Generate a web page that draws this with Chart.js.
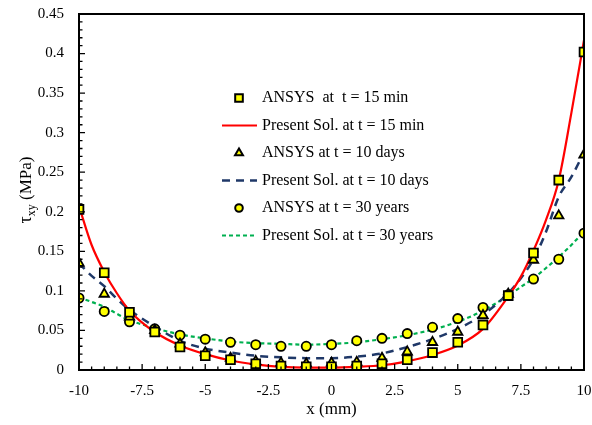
<!DOCTYPE html>
<html>
<head>
<meta charset="utf-8">
<script src="https://cdn.jsdelivr.net/npm/chart.js@4.4.0/dist/chart.umd.min.js"></script>
<style>
  body { margin: 0; background: #fff; }
  #container { width: 592px; height: 425px; }
</style>
</head>
<body>
<div id="container"><canvas id="chart" width="592" height="425"></canvas></div>
<script>
// points ANSYS (x entiers)
const xAnsys = [-10, -9, -8, -7, -6, -5, -4, -3, -2, -1, 0, 1, 2, 3, 4, 5, 6, 7, 8, 9, 10];
const ansys15min = [0.203, 0.123, 0.073, 0.048, 0.029, 0.018, 0.013, 0.008, 0.005, 0.004, 0.004, 0.005, 0.008, 0.013, 0.022, 0.035, 0.057, 0.094, 0.148, 0.240, 0.402];
const ansys10days = [0.135, 0.096, 0.067, 0.050, 0.033, 0.022, 0.015, 0.011, 0.009, 0.008, 0.009, 0.010, 0.015, 0.023, 0.035, 0.048, 0.069, 0.096, 0.139, 0.195, 0.272];
const ansys30years = [0.091, 0.074, 0.061, 0.052, 0.044, 0.039, 0.035, 0.032, 0.030, 0.030, 0.032, 0.037, 0.040, 0.046, 0.054, 0.065, 0.079, 0.095, 0.115, 0.140, 0.173];

// solution presente (courbes)
const xSol = [-10, -9.5, -9, -8.5, -8, -7, -6, -5, -4, -3, -2, -1, 0, 1, 2, 3, 4, 5, 6, 7, 7.5, 8, 8.5, 9, 9.5, 10];
const sol15min = [0.207, 0.158, 0.124, 0.097, 0.075, 0.048, 0.031, 0.020, 0.012, 0.007, 0.004, 0.003, 0.003, 0.004, 0.006, 0.011, 0.019, 0.031, 0.052, 0.093, 0.118, 0.151, 0.190, 0.240, 0.325, 0.417];
const sol10days = [0.135, 0.119, 0.106, 0.090, 0.076, 0.055, 0.037, 0.027, 0.022, 0.018, 0.016, 0.015, 0.015, 0.017, 0.021, 0.029, 0.039, 0.052, 0.070, 0.097, 0.116, 0.140, 0.175, 0.219, 0.244, 0.275];
const sol30years = [0.092, 0.086, 0.080, 0.071, 0.063, 0.053, 0.045, 0.040, 0.036, 0.034, 0.033, 0.032, 0.033, 0.035, 0.039, 0.044, 0.051, 0.061, 0.075, 0.094, 0.105, 0.116, 0.129, 0.143, 0.158, 0.175];

const xTicks = [-10, -7.5, -5, -2.5, 0, 2.5, 5, 7.5, 10];
const yTicks = [0, 0.05, 0.1, 0.15, 0.2, 0.25, 0.3, 0.35, 0.4, 0.45];

const serif = "'Liberation Serif', 'Times New Roman', serif";

const toPoints = (xs, ys) => xs.map((x, i) => ({ x: x, y: ys[i] }));

const markerStyle = (style, radius) => ({
	showLine: false,
	pointStyle: style,
	pointRadius: radius,
	pointBackgroundColor: '#FFFF00',
	pointBorderColor: '#000000',
	pointBorderWidth: 1.8,
	order: 0
});

const lineStyle = (color, width, dash) => ({
	showLine: true,
	borderColor: color,
	borderWidth: width,
	borderDash: dash,
	pointRadius: 0,
	cubicInterpolationMode: 'monotone',
	fill: false,
	order: 1
});

const datasets = [
	Object.assign({ label: 'ANSYS  at  t = 15 min', data: toPoints(xAnsys, ansys15min) }, markerStyle('rect', 6.2)),
	Object.assign({ label: 'Present Sol. at t = 15 min', data: toPoints(xSol, sol15min) }, lineStyle('#FF0000', 2.2, [])),
	Object.assign({ label: 'ANSYS at t = 10 days', data: toPoints(xAnsys, ansys10days) }, markerStyle('triangle', 5.4)),
	Object.assign({ label: 'Present Sol. at t = 10 days', data: toPoints(xSol, sol10days) }, lineStyle('#1F3868', 2.5, [8, 6])),
	Object.assign({ label: 'ANSYS at t = 30 years', data: toPoints(xAnsys, ansys30years) }, markerStyle('circle', 4.6)),
	Object.assign({ label: 'Present Sol. at t = 30 years', data: toPoints(xSol, sol30years) }, lineStyle('#00B050', 2.2, [4, 3]))
];

// cadre, graduations, legende et titres des axes
const decorPlugin = {
	id: 'decor',
	afterDraw(chart) {
		const ctx = chart.ctx;
		const area = chart.chartArea;
		const xs = chart.scales.x;
		const ys = chart.scales.y;
		ctx.save();

		// graduations vers l'interieur
		ctx.strokeStyle = '#000';
		ctx.lineWidth = 1.3;
		ctx.beginPath();
		for (let i = 0; i <= 40; i++) {
			const v = -10 + i * 0.5;
			const px = xs.getPixelForValue(v);
			const len = (i % 5 === 0) ? 6 : 3.5;
			ctx.moveTo(px, area.bottom);
			ctx.lineTo(px, area.bottom - len);
		}
		for (let i = 0; i <= 45; i++) {
			const py = ys.getPixelForValue(i * 0.01);
			const len = (i % 5 === 0) ? 6 : 3.5;
			ctx.moveTo(area.left, py);
			ctx.lineTo(area.left + len, py);
		}
		ctx.stroke();

		// cadre
		ctx.lineWidth = 2;
		ctx.strokeRect(area.left, area.top, area.right - area.left, area.bottom - area.top);

		// legende
		const rowY = [98, 125.5, 153, 180.5, 208, 235.5];
		const markX = 239;
		ctx.font = '16px ' + serif;
		ctx.textBaseline = 'middle';
		ctx.textAlign = 'left';
		chart.data.datasets.forEach((ds, i) => {
			const y = rowY[i];
			if (ds.showLine) {
				ctx.save();
				ctx.strokeStyle = ds.borderColor;
				ctx.lineWidth = ds.borderWidth;
				ctx.setLineDash(ds.borderDash);
				ctx.beginPath();
				ctx.moveTo(222, y);
				ctx.lineTo(257, y);
				ctx.stroke();
				ctx.restore();
			} else {
				ctx.save();
				ctx.fillStyle = ds.pointBackgroundColor;
				ctx.strokeStyle = ds.pointBorderColor;
				ctx.lineWidth = 2;
				Chart.helpers.drawPoint(ctx, {
					pointStyle: ds.pointStyle,
					radius: ds.pointRadius - 0.8,
					rotation: 0,
					borderWidth: 2
				}, markX, y);
				ctx.restore();
			}
			ctx.fillStyle = '#000';
			ctx.fillText(ds.label, 262, y);
		});

		// titre axe x
		ctx.font = '17px ' + serif;
		ctx.textAlign = 'center';
		ctx.textBaseline = 'alphabetic';
		ctx.fillText('x (mm)', (area.left + area.right) / 2, 414);

		// titre axe y : tau_xy (MPa)
		ctx.translate(31, 190);
		ctx.rotate(-Math.PI / 2);
		ctx.textAlign = 'left';
		const tau = '\u03C4';
		const sub = 'xy';
		const rest = ' (MPa)';
		ctx.font = '18px ' + serif;
		const wTau = ctx.measureText(tau).width;
		ctx.font = '12px ' + serif;
		const wSub = ctx.measureText(sub).width;
		ctx.font = '17px ' + serif;
		const wRest = ctx.measureText(rest).width;
		let x0 = -(wTau + wSub + wRest) / 2;
		ctx.font = '18px ' + serif;
		ctx.fillText(tau, x0, 0);
		x0 += wTau;
		ctx.font = '12px ' + serif;
		ctx.fillText(sub, x0, 4);
		x0 += wSub;
		ctx.font = '17px ' + serif;
		ctx.fillText(rest, x0, 0);
		ctx.restore();
	}
};

new Chart(document.getElementById('chart'), {
	type: 'scatter',
	data: { datasets: datasets },
	options: {
		responsive: false,
		animation: false,
		layout: { padding: { top: 14, right: 7, left: 0, bottom: 0 } },
		plugins: {
			legend: { display: false },
			tooltip: { enabled: false }
		},
		scales: {
			x: {
				type: 'linear',
				min: -10,
				max: 10,
				afterFit: scale => {
					scale.height = 55;
					scale.paddingLeft = 0;
					scale.paddingRight = 0;
				},
				afterBuildTicks: scale => { scale.ticks = xTicks.map(v => ({ value: v })); },
				grid: { display: false, drawTicks: false },
				border: { display: false },
				ticks: {
					color: '#000',
					font: { family: serif, size: 15 },
					padding: 12,
					maxRotation: 0
				}
			},
			y: {
				type: 'linear',
				min: 0,
				max: 0.45,
				afterFit: scale => {
					scale.width = 79;
					scale.paddingTop = 0;
					scale.paddingBottom = 0;
				},
				afterBuildTicks: scale => { scale.ticks = yTicks.map(v => ({ value: v })); },
				grid: { display: false, drawTicks: false },
				border: { display: false },
				ticks: {
					color: '#000',
					font: { family: serif, size: 15 },
					padding: 15,
					callback: v => String(parseFloat(v.toFixed(2)))
				}
			}
		}
	},
	plugins: [decorPlugin]
});
</script>
</body>
</html>
